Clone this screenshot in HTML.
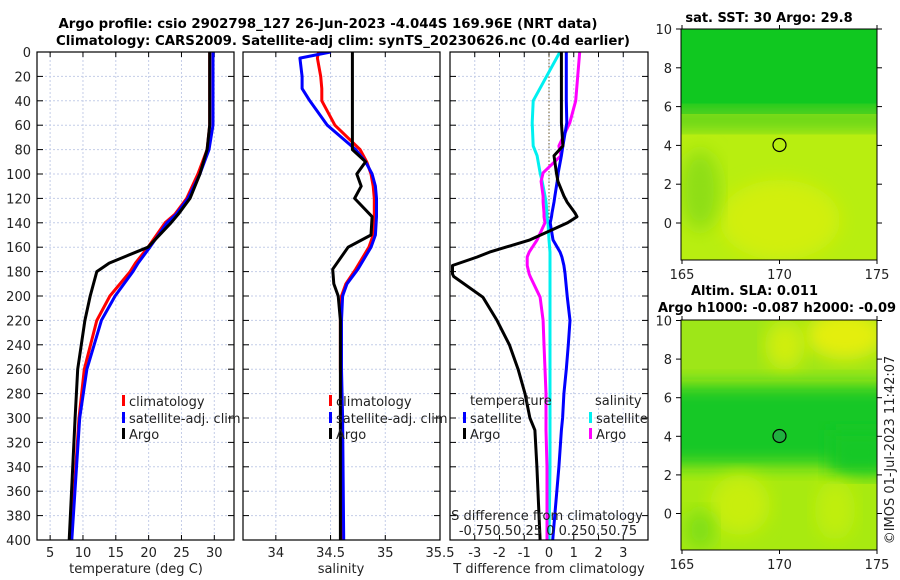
<!DOCTYPE html>
<html><head><meta charset="utf-8">
<style>
html,body{margin:0;padding:0;background:#fff;}
svg{display:block;font-family:"DejaVu Sans","Liberation Sans",sans-serif;}
</style></head>
<body>
<svg id="s" width="900" height="580" xmlns="http://www.w3.org/2000/svg">
<defs>
<filter id="bl" x="-20%" y="-20%" width="140%" height="140%"><feGaussianBlur stdDeviation="9"/></filter>
<clipPath id="c1"><rect x="681" y="29" width="196" height="231"/></clipPath>
<clipPath id="c2"><rect x="681" y="320" width="196" height="230"/></clipPath>
<clipPath id="cp1"><rect x="37" y="52" width="197" height="488"/></clipPath>
<clipPath id="cp2"><rect x="243" y="52" width="197" height="488"/></clipPath>
<clipPath id="cp3"><rect x="450" y="52" width="198" height="488"/></clipPath>
</defs>
<text x="328" y="28" text-anchor="middle" font-size="13.3" font-weight="bold">Argo profile: csio 2902798_127 26-Jun-2023 -4.044S 169.96E (NRT data)</text>
<text x="343" y="45" text-anchor="middle" font-size="13.3" font-weight="bold">Climatology: CARS2009. Satellite-adj clim: synTS_20230626.nc (0.4d earlier)</text>

<!-- top map -->
<g clip-path="url(#c1)">
<rect x="681" y="29" width="196" height="231" fill="#b8ee10"/>
<rect x="681" y="29" width="196" height="85" fill="#10c820"/>
<rect x="660" y="108" width="240" height="22" fill="#60d41c" filter="url(#bl)"/>
<ellipse cx="780" cy="220" rx="60" ry="40" fill="#d2ef10" filter="url(#bl)"/>
<ellipse cx="700" cy="190" rx="20" ry="40" fill="#8ede14" filter="url(#bl)"/>
<circle cx="779.5" cy="145" r="6.5" fill="none" stroke="#000" stroke-width="1.2"/>
</g>
<rect x="681" y="29" width="196" height="231" fill="none" stroke="#000" stroke-width="1"/>
<text x="769" y="22" text-anchor="middle" font-size="13" font-weight="bold">sat. SST: 30 Argo: 29.8</text>

<!-- bottom map -->
<g clip-path="url(#c2)">
<rect x="681" y="320" width="196" height="230" fill="#a8ea10"/>
<rect x="681" y="320" width="196" height="60" fill="#9ee618"/>
<ellipse cx="845" cy="335" rx="40" ry="25" fill="#e4ee08" filter="url(#bl)"/>
<ellipse cx="785" cy="345" rx="20" ry="25" fill="#d0ee10" filter="url(#bl)"/>
<rect x="660" y="385" width="240" height="80" fill="#18c828" filter="url(#bl)"/>
<rect x="830" y="430" width="60" height="45" fill="#18c828" filter="url(#bl)"/>
<ellipse cx="740" cy="505" rx="30" ry="30" fill="#c8ee10" filter="url(#bl)"/>
<ellipse cx="835" cy="510" rx="20" ry="30" fill="#c0ee10" filter="url(#bl)"/>
<ellipse cx="700" cy="530" rx="15" ry="20" fill="#7ede18" filter="url(#bl)"/>
<circle cx="779.5" cy="436" r="6.5" fill="#20b040" stroke="#000" stroke-width="1.2"/>
</g>
<rect x="681" y="320" width="196" height="230" fill="none" stroke="#000" stroke-width="1"/>
<text x="691" y="295" font-size="13" font-weight="bold">Altim. SLA: 0.011</text>
<text x="658" y="312" font-size="13" font-weight="bold">Argo h1000: -0.087 h2000: -0.09</text>
<text transform="translate(894,450) rotate(-90)" text-anchor="middle" font-size="13" fill="#222">©IMOS 01-Jul-2023 11:42:07</text>

<g id="g"></g>
</svg>
<script>
// ---- data ----
const depths = [0,5,20,40,60,80,100,120,133,140,160,173,180,200,220,260,300,400];
const tempClim = [29.3,29.3,29.3,29.3,29.3,28.9,27.5,25.8,24.0,22.5,19.9,18.0,17.2,14.1,12.1,10.2,9.4,8.2];
const tempSat  = [29.8,29.8,29.8,29.8,29.8,29.2,27.8,26.0,24.2,22.8,20.2,18.4,17.6,14.9,12.8,10.6,9.5,8.3];
const tempArgo = [29.3,29.3,29.3,29.3,29.3,28.9,27.8,26.3,24.5,23.4,19.9,14.0,12.1,11.1,10.3,9.2,8.8,7.9];

const salDepths = [0,5,20,30,40,60,80,90,100,110,120,135,150,160,178,190,200,220,260,300,400];
const salClim = [34.39,34.38,34.41,34.42,34.42,34.54,34.77,34.83,34.87,34.89,34.90,34.90,34.89,34.85,34.73,34.64,34.60,34.59,34.59,34.60,34.61];
const salSat  = [34.50,34.22,34.24,34.24,34.31,34.47,34.73,34.82,34.88,34.91,34.92,34.92,34.91,34.87,34.75,34.65,34.61,34.60,34.60,34.61,34.62];
const salArgo = [34.70,34.70,34.70,34.70,34.70,34.70,34.70,34.82,34.74,34.78,34.72,34.88,34.87,34.66,34.52,34.53,34.57,34.59,34.59,34.59,34.59];

const dDepths = [0,40,58,77,85,99,106,118,123,132,135,140,154,164,168,175,182,184,201,220,240,260,280,300,310,340,400];
const dTSat  = [0.7,0.7,0.72,0.56,0.5,0.37,0.33,0.24,0.2,0.12,0.1,0.05,0.16,0.45,0.52,0.6,0.65,0.66,0.74,0.85,0.78,0.7,0.6,0.55,0.5,0.4,0.15];
const dTArgo = [0.5,0.5,0.5,0.56,0.2,0.3,0.36,0.6,0.73,1.05,1.13,0.75,-0.77,-2.4,-2.9,-3.9,-3.9,-3.85,-2.67,-2.1,-1.6,-1.25,-0.97,-0.77,-0.57,-0.49,-0.36];
const dSSat  = [0.11,-0.16,-0.17,-0.16,-0.12,-0.09,-0.07,-0.04,-0.03,-0.02,-0.02,-0.01,0.0,0.01,0.01,0.01,0.01,0.01,0.01,0.01,0.01,0.01,0.01,0.01,0.01,0.01,0.0];
const dSArgo = [0.31,0.27,0.21,0.1,0.12,-0.06,-0.08,-0.06,-0.06,-0.05,-0.05,-0.04,-0.12,-0.2,-0.22,-0.22,-0.2,-0.19,-0.09,-0.06,-0.05,-0.04,-0.03,-0.03,-0.03,-0.02,-0.02];

const depthTicks = [0,20,40,60,80,100,120,140,160,180,200,220,240,260,280,300,320,340,360,380,400];
const tTicks = [5,10,15,20,25,30];
const sTicks = [34,34.5,35,35.5];
const dTicks = [-3,-2,-1,0,1,2,3];
const latTicks = [10,8,6,4,2,0];
const lonTicks = [165,170,175];

// ---- axes ----
const Y0=52, Y1=540;
const yD = d => Y0 + (d/400)*(Y1-Y0);
const xT = t => 37 + (t-3)/30*197;
const xS = s => 243 + (s-33.7)/1.8*197;
const xDT = v => 450 + (v+4)/8*198;
const xDS = v => xDT(v*4);
const ns="http://www.w3.org/2000/svg";
const G=document.getElementById('g');
function mk(tag,attrs,parent){const e=document.createElementNS(ns,tag);for(const k in attrs)e.setAttribute(k,attrs[k]);(parent||G).appendChild(e);return e;}
function txt(x,y,s,size,anchor,parent){const e=mk('text',{x:x,y:y,'font-size':size||13,'text-anchor':anchor||'middle',fill:'#222'},parent);e.textContent=s;return e;}

function panel(name,x0,x1,xticks,xf){
  const g=mk('g',{});
  
  
  depthTicks.forEach(d=>{const y=yD(d);
    if(d>0&&d<400) mk('line',{x1:x0,x2:x1,y1:y,y2:y,stroke:'#c4cde8','stroke-width':1,'stroke-dasharray':'2,2'},g);
    mk('line',{x1:x0,x2:x0+6,y1:y,y2:y,stroke:'#000','stroke-width':1},g);
    mk('line',{x1:x1-6,x2:x1,y1:y,y2:y,stroke:'#000','stroke-width':1},g);});
  xticks.forEach(t=>{const x=xf(t); if(x>x0+1&&x<x1-1){
    mk('line',{x1:x,x2:x,y1:Y0,y2:Y1,stroke:'#c4cde8','stroke-width':1,'stroke-dasharray':'2,2'},g);}
    mk('line',{x1:x,x2:x,y1:Y0,y2:Y0+5,stroke:'#000'},g);
    mk('line',{x1:x,x2:x,y1:Y1-5,y2:Y1,stroke:'#000'},g);
    txt(x,557,String(t),13,'middle',g);});
  return g;
}
function line(xs,ds,xf,color,name,clip,w){
  const p=xs.map((v,i)=>xf(v).toFixed(1)+','+yD(ds[i]).toFixed(1)).join(' ');
  const e=mk('polyline',{points:p,fill:'none',stroke:color,'stroke-width':w||3,'stroke-linejoin':'round','clip-path':'url(#'+clip+')'});
  
  
}
function frame(x0,x1){mk('rect',{x:x0,y:Y0,width:x1-x0,height:Y1-Y0,fill:'none',stroke:'#000','stroke-width':1.2});}

// panel 1
panel('temperature-panel',37,234,tTicks,xT);
depthTicks.forEach(d=>{const e=txt(31,yD(d)+5,String(d),13,'end');});
line(tempClim,depths,xT,'#ff0000','temp-climatology-line','cp1');
line(tempSat,depths,xT,'#0000ff','temp-satellite-line','cp1');
line(tempArgo,depths,xT,'#000','temp-argo-line','cp1');
frame(37,234);
let e=txt(136,573,'temperature (deg C)',13);  

// panel 2
panel('salinity-panel',243,440,sTicks,xS);
line(salClim,salDepths,xS,'#ff0000','sal-climatology-line','cp2');
line(salSat,salDepths,xS,'#0000ff','sal-satellite-line','cp2');
line(salArgo,salDepths,xS,'#000','sal-argo-line','cp2');
frame(243,440);
e=txt(341,573,'salinity',13);  

// panel 3
panel('difference-panel',450,648,dTicks,xDT);
mk('line',{x1:xDT(0),x2:xDT(0),y1:Y0,y2:Y1,stroke:'#6b5a2a','stroke-width':1,'stroke-dasharray':'1.5,2'});
line(dSSat,dDepths,xDS,'#00f0f0','sdiff-satellite-line','cp3');
line(dSArgo,dDepths,xDS,'#ff00ff','sdiff-argo-line','cp3');
line(dTSat,dDepths,xDT,'#0000ff','tdiff-satellite-line','cp3');
line(dTArgo,dDepths,xDT,'#000','tdiff-argo-line','cp3');
frame(450,648);
e=txt(549,573,'T difference from climatology',13);  
e=txt(547,520,'S difference from climatology',13);  
e=txt(548,535,'-0.750.50.25 0  0.250.50.75',13);  

// legends
function leg(x,y,color,label,name){
  const g=mk('g',{});
  
  
  mk('rect',{x:x,y:y-6,width:3,height:11,fill:color},g);
  txt(x+7,y+5,label,13,'start',g);
}
leg(122,401,'#ff0000','climatology','legend-temp-climatology');
leg(122,418,'#0000ff','satellite-adj. clim','legend-temp-satellite');
leg(122,434,'#000','Argo','legend-temp-argo');
leg(329,401,'#ff0000','climatology','legend-sal-climatology');
leg(329,418,'#0000ff','satellite-adj. clim','legend-sal-satellite');
leg(329,434,'#000','Argo','legend-sal-argo');
e=txt(470,405,'temperature',13,'start');  
e=txt(595,405,'salinity',13,'start');  
leg(463,418,'#0000ff','satellite','legend-tdiff-satellite');
leg(463,434,'#000','Argo','legend-tdiff-argo');
leg(589,418,'#00f0f0','satellite','legend-sdiff-satellite');
leg(589,434,'#ff00ff','Argo','legend-sdiff-argo');

// map axes
const latY1 = l => 223 - l*19.4;
const latY2 = l => 513.5 - l*19.3;
const lonX = l => 682 + (l-165)/10*195;
[[latY1,29,260,276,'sst'],[latY2,320,550,566,'sla']].forEach(([f,yt,yb,ly,n])=>{
  latTicks.forEach(l=>{const y=f(l);
    mk('line',{x1:681,x2:676,y1:y,y2:y,stroke:'#000'});
    mk('line',{x1:877,x2:882,y1:y,y2:y,stroke:'#000'});
    const t=txt(672,y+5,String(l),13,'end');  });
  lonTicks.forEach(l=>{const x=lonX(l);
    mk('line',{x1:x,x2:x,y1:yt,y2:yt-4,stroke:'#000'});
    mk('line',{x1:x,x2:x,y1:yb,y2:yb+4,stroke:'#000'});
    const t=txt(x,ly+3,String(l),13);  });
});
</script>
</body></html>
